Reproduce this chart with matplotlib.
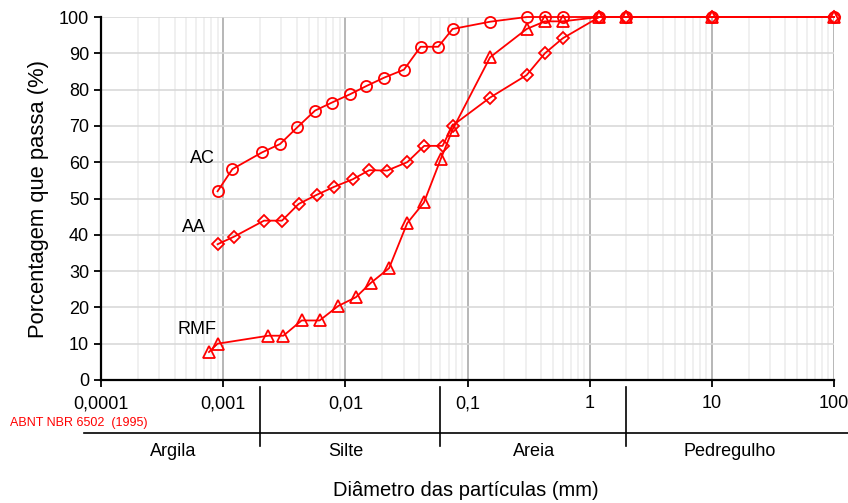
import numpy as np
import matplotlib.pyplot as plt
import matplotlib.transforms as mtransforms
from matplotlib.ticker import FixedLocator, LogLocator, NullFormatter

plt.rcParams['font.family'] = ['Liberation Sans', 'DejaVu Sans']

# curvas granulometricas (diametro em mm, % que passa)
ac_d = [0.0009, 0.00119, 0.00208, 0.00292, 0.00404, 0.00564, 0.00773, 0.0109,
        0.0149, 0.0208, 0.0302, 0.0413, 0.0576, 0.0755, 0.153, 0.305, 0.43,
        0.60, 1.2, 2.0, 10, 100]
ac_p = [52.0, 58.1, 62.7, 65.0, 69.6, 74.2, 76.4, 78.7,
        81.0, 83.3, 85.5, 91.8, 91.8, 96.7, 98.7, 100, 100,
        100, 100, 100, 100, 100]

aa_d = [0.0009, 0.00123, 0.00216, 0.00303, 0.00415, 0.00582, 0.00807, 0.0115,
        0.0157, 0.0220, 0.0321, 0.0442, 0.0625, 0.0755, 0.153, 0.305, 0.43,
        0.60, 1.2, 2.0, 10, 100]
aa_p = [37.4, 39.5, 43.9, 43.9, 48.5, 51.0, 53.2, 55.3,
        57.8, 57.7, 60.0, 64.5, 64.5, 70.1, 77.8, 84.0, 90.0,
        94.1, 100, 100, 100, 100]

rmf_d = [0.000765, 0.0009, 0.00234, 0.00311, 0.00439, 0.00616, 0.00875, 0.0122,
         0.0161, 0.0228, 0.0321, 0.0440, 0.0606, 0.0755, 0.153, 0.305, 0.43,
         0.60, 1.2, 2.0, 10, 100]
rmf_p = [7.7, 10.0, 12.2, 12.2, 16.4, 16.4, 20.4, 22.8,
         26.7, 30.8, 43.2, 48.9, 61.0, 69.0, 88.9, 96.7, 98.8,
         98.8, 100, 100, 100, 100]

# classificacao ABNT NBR 6502 (1995)
limites = [0.002, 0.06, 2.0]
classes = ['Argila', 'Silte', 'Areia', 'Pedregulho']
pos_classes = [0.00039, 0.0101, 0.35, 14.0]

fig = plt.figure(figsize=(8.48, 5.03), dpi=100)
ax = fig.add_axes([101/848, 1 - 380/503, (834 - 101)/848, (380 - 17)/503])

ax.set_xscale('log')
ax.set_xlim(0.0001, 100)
ax.set_ylim(0, 100)

dec = [0.0001, 0.001, 0.01, 0.1, 1, 10, 100]
ax.xaxis.set_major_locator(FixedLocator(dec))
ax.set_xticklabels(['0,0001', '0,001', '0,01', '0,1', '1', '10', '100'])
ax.xaxis.set_minor_locator(LogLocator(base=10, subs=np.arange(2, 10)))
ax.xaxis.set_minor_formatter(NullFormatter())
ax.set_yticks(np.arange(0, 101, 10))

ax.grid(True, which='minor', axis='x', color='#ededed', lw=1.2)
ax.grid(True, which='major', axis='x', color='#aaaaaa', lw=1.2)
ax.grid(True, which='major', axis='y', color='#d9d9d9', lw=1.2)
ax.set_axisbelow(True)

for s in ['top', 'right']:
    ax.spines[s].set_visible(False)
ax.spines['left'].set_linewidth(1.6)
ax.spines['bottom'].set_linewidth(1.6)
ax.tick_params(axis='both', which='major', direction='out', length=5, width=1.3,
               labelsize=13, colors='black')
ax.tick_params(axis='x', which='minor', length=0)
ax.tick_params(axis='x', which='major', pad=6)

kw = dict(color='red', lw=1.3, mfc='none', mew=1.3, clip_on=False, zorder=5)
ax.plot(ac_d, ac_p, marker='o', ms=8, **kw)
ax.plot(aa_d, aa_p, marker='D', ms=6, **kw)
ax.plot(rmf_d, rmf_p, marker='^', ms=8, **kw)

ax.text(0.00085, 61, 'AC', fontsize=13, ha='right', va='center')
ax.text(0.00072, 42, 'AA', fontsize=13, ha='right', va='center')
ax.text(0.00088, 13.8, 'RMF', fontsize=13, ha='right', va='center')

ax.set_ylabel('Porcentagem que passa (%)', fontsize=15.8, labelpad=7)

# faixa de classificacao abaixo do eixo
tr = mtransforms.blended_transform_factory(ax.transData, ax.transAxes)
for lim in limites:
    ax.plot([lim, lim], [-(387 - 380) / 363, -(446 - 380) / 363], color='black',
            lw=1.2, transform=tr, clip_on=False)
fig.add_artist(plt.Line2D([84/848, 1.0], [1 - 433/503, 1 - 433/503],
                          color='black', lw=1.2))
for nome, xc in zip(classes, pos_classes):
    ax.text(xc, -(452 - 380) / 363, nome, transform=tr, ha='center',
            va='center', fontsize=13)
fig.text(10/848, 1 - 423/503, 'ABNT NBR 6502  (1995)', color='red',
         fontsize=9, ha='left', va='center')
fig.text(466/848, 1 - 491/503, 'Diâmetro das partículas (mm)', fontsize=14.5,
         ha='center', va='center')

fig.savefig('out.png', dpi=100)
